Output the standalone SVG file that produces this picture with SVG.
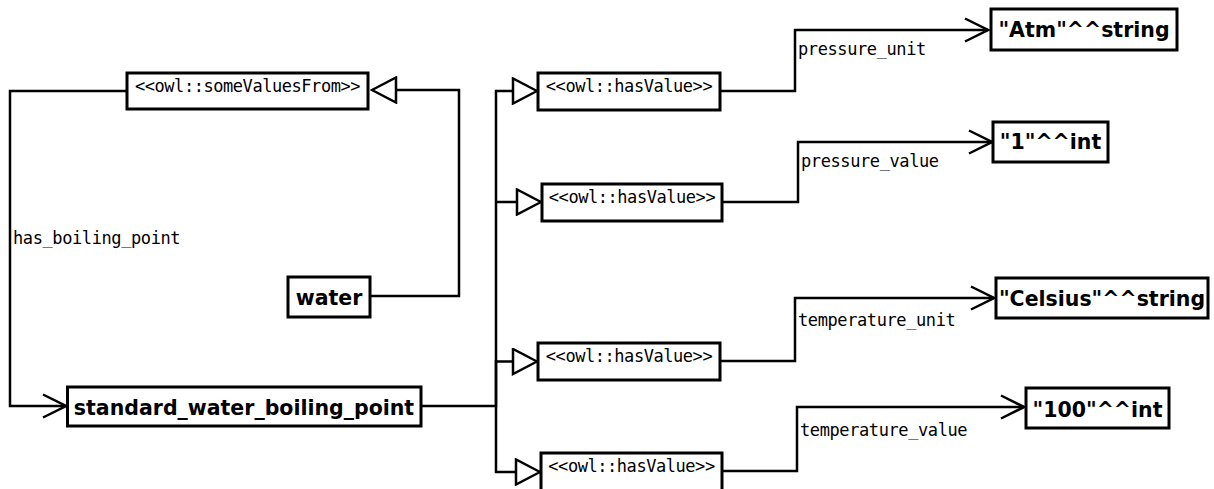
<svg xmlns="http://www.w3.org/2000/svg" width="1214" height="489" viewBox="0 0 1214 489">
<style>
.box{fill:#fff;stroke:#000;stroke-width:3}
.bold{font-family:"DejaVu Sans",sans-serif;font-weight:bold;font-size:20.5px;text-anchor:middle;fill:#000}
.st{font-family:"DejaVu Sans Mono",monospace;font-size:17px;letter-spacing:-0.45px;text-anchor:middle;fill:#000}
.lbl{font-family:"DejaVu Sans Mono",monospace;font-size:17px;letter-spacing:-0.4px;fill:#000}
.conn{fill:none;stroke:#000;stroke-width:2.5}
</style>
<defs>
<marker id="tri" markerUnits="userSpaceOnUse" viewBox="-26 -14 28 28" refX="0" refY="0" markerWidth="28" markerHeight="28" orient="auto">
<path d="M0,0 L-24,-12.5 L-24,12.5 Z" fill="#fff" stroke="#000" stroke-width="2.5"/>
</marker>
<marker id="open" markerUnits="userSpaceOnUse" viewBox="-26 -14 28 28" refX="0" refY="0" markerWidth="28" markerHeight="28" orient="auto">
<path d="M-23,-11.5 L0,0 L-23,11.5" fill="none" stroke="#000" stroke-width="2.5"/>
</marker>
</defs>
<g id="connectors">
<path class="conn" d="M127,91 H10 V406 H66" marker-end="url(#open)"/>
<text class="lbl" x="13" y="244">has_boiling_point</text>
<path class="conn" d="M370,296 H459 V90 H372" marker-end="url(#tri)"/>
<path class="conn" d="M421,406 H496 V91 H537" marker-end="url(#tri)"/>
<path class="conn" d="M496,202 H541" marker-end="url(#tri)"/>
<path class="conn" d="M496,361.5 H537" marker-end="url(#tri)"/>
<path class="conn" d="M496,360 V472 H540" marker-end="url(#tri)"/>
<path class="conn" d="M720,91 H795 V30 H988" marker-end="url(#open)"/>
<text class="lbl" x="798" y="55">pressure_unit</text>
<path class="conn" d="M722,202 H798 V142 H992" marker-end="url(#open)"/>
<text class="lbl" x="801" y="167">pressure_value</text>
<path class="conn" d="M720,361 H795 V298 H994" marker-end="url(#open)"/>
<text class="lbl" x="798" y="326">temperature_unit</text>
<path class="conn" d="M722,471 H797 V407 H1024" marker-end="url(#open)"/>
<text class="lbl" x="800" y="436">temperature_value</text>
</g>
<g id="someValuesFrom">
<rect class="box" x="127" y="73" width="241" height="36"/>
<text class="st" x="247.5" y="92">&lt;&lt;owl::someValuesFrom&gt;&gt;</text>
</g>
<g id="water">
<rect class="box" x="288" y="277" width="82" height="40"/>
<text class="bold" x="329" y="305">water</text>
</g>
<g id="standard_water_boiling_point">
<rect class="box" x="67.5" y="387" width="353.5" height="39"/>
<text class="bold" x="244" y="415">standard_water_boiling_point</text>
</g>
<g id="hasValue1">
<rect class="box" x="538" y="73" width="182" height="37"/>
<text class="st" x="629" y="92">&lt;&lt;owl::hasValue&gt;&gt;</text>
</g>
<g id="hasValue2">
<rect class="box" x="542" y="184" width="180" height="37"/>
<text class="st" x="632" y="203">&lt;&lt;owl::hasValue&gt;&gt;</text>
</g>
<g id="hasValue3">
<rect class="box" x="538" y="343" width="182" height="37"/>
<text class="st" x="629" y="362">&lt;&lt;owl::hasValue&gt;&gt;</text>
</g>
<g id="hasValue4">
<rect class="box" x="541" y="453" width="181" height="39"/>
<text class="st" x="631.5" y="472">&lt;&lt;owl::hasValue&gt;&gt;</text>
</g>
<g id="atm">
<rect class="box" x="991" y="9" width="186" height="41"/>
<text class="bold" x="1084" y="37">"Atm"^^string</text>
</g>
<g id="one">
<rect class="box" x="993" y="122" width="115" height="40"/>
<text class="bold" x="1050.5" y="149">"1"^^int</text>
</g>
<g id="celsius">
<rect class="box" x="996" y="278" width="212" height="40"/>
<text class="bold" x="1102" y="306">"Celsius"^^string</text>
</g>
<g id="hundred">
<rect class="box" x="1026" y="388" width="143" height="40"/>
<text class="bold" x="1097.5" y="417">"100"^^int</text>
</g>
</svg>
